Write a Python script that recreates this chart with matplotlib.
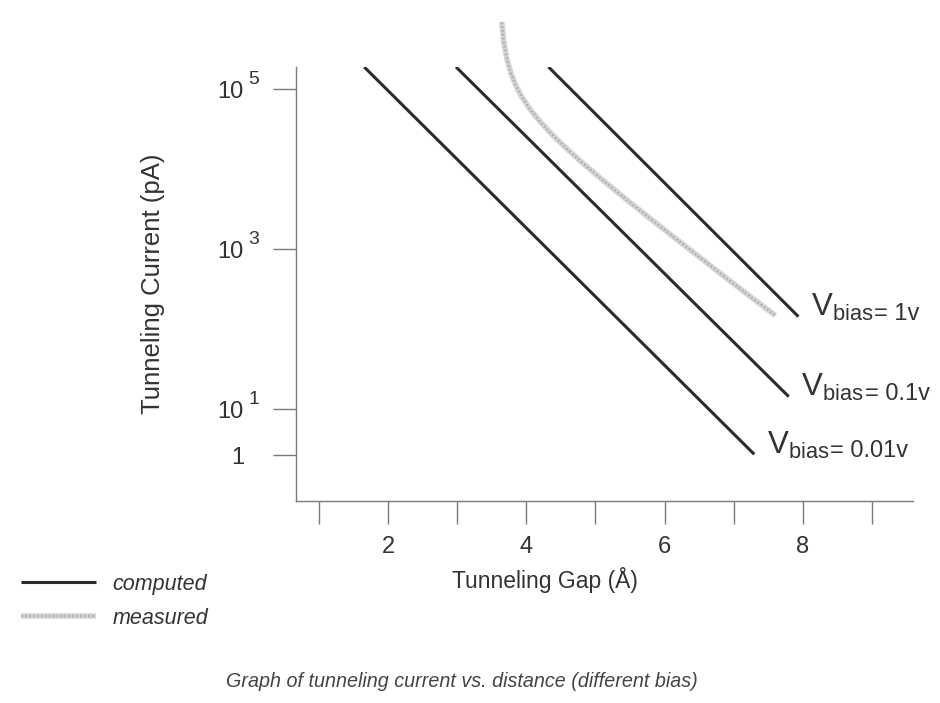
import matplotlib
matplotlib.use('Agg')
import matplotlib.pyplot as plt

plt.rcParams['font.family'] = ['Liberation Sans', 'DejaVu Sans']
plt.rcParams['mathtext.fontset'] = 'custom'
plt.rcParams['mathtext.rm'] = 'Liberation Sans'
plt.rcParams['mathtext.it'] = 'Liberation Sans:italic'

# Datos (x en Angstrom, y en log10 de la corriente en pA)
gap_001 = [1.65, 7.30]
cur_001 = [5.28, 0.44]
gap_01 = [2.98, 7.80]
cur_01 = [5.28, 1.16]
gap_1 = [4.32, 7.94]
cur_1 = [5.28, 2.16]

gap_meas = [3.643, 3.672, 3.716, 3.774, 3.846, 3.933, 4.049, 4.194, 4.368, 4.571, 4.803,
            5.093, 5.455, 5.890, 6.397, 6.861, 7.296, 7.604]
cur_meas = [5.841, 5.591, 5.385, 5.205, 5.049, 4.906, 4.756, 4.600, 4.438, 4.268, 4.088,
            3.875, 3.619, 3.319, 2.978, 2.665, 2.376, 2.176]

bias_vals = ['1v', '0.1v', '0.01v']

xticks = [1, 2, 3, 4, 5, 6, 7, 8, 9]
xtick_labels = ['', '2', '', '4', '', '6', '', '8', '']
yticks = [5, 3, 1, 0.43]
ytick_labels = ['10', '10', '10', '1']
ytick_exp = ['5', '3', '1', '']

txt = '#333333'
ink = '#2b2b2b'
gris = '#7a7a7a'

fig = plt.figure(figsize=(9.4, 7.03), dpi=100)
ax = fig.add_axes([0.3149, 0.2878, 0.6564, 0.6169])

# curva medida (trama gris, sale por encima del eje)
meas, = ax.plot(gap_meas, cur_meas, color='#d4d4d4', lw=4.0, clip_on=False,
                solid_capstyle='butt', solid_joinstyle='round')
meas_dots, = ax.plot(gap_meas, cur_meas, color='#a9a9a9', lw=1.5, clip_on=False,
                     linestyle=(0, (0.8, 1.1)))

comp = None
for g, c, v in zip([gap_1, gap_01, gap_001], [cur_1, cur_01, cur_001], bias_vals):
    l, = ax.plot(g, c, color=ink, lw=2.2, solid_capstyle='butt')
    comp = comp or l
    t = ax.annotate(r'$\mathrm{V}_{\mathrm{bias}}$', xy=(g[-1], c[-1]), xytext=(9, 0.5),
                    textcoords='offset points', ha='left', va='baseline', fontsize=22.5, color=txt)
    ax.annotate('= ' + v, xy=(1, 0), xycoords=t, xytext=(0.5, 2.5), textcoords='offset points',
                ha='left', va='baseline', fontsize=17, color=txt)

ax.set_xlim(0.662, 9.60)
ax.set_ylim(-0.14, 5.28)

for s in ['top', 'right']:
    ax.spines[s].set_visible(False)
for s in ['left', 'bottom']:
    ax.spines[s].set_color(gris)
    ax.spines[s].set_linewidth(1.0)

ax.set_xticks(xticks)
ax.set_xticklabels(xtick_labels)
ax.set_yticks(yticks)
ax.set_yticklabels(ytick_labels)
ax.tick_params(axis='both', direction='out', length=16.5, width=1.0, color=gris,
               labelsize=17, labelcolor=txt)
ax.tick_params(axis='x', pad=9)
ax.tick_params(axis='y', pad=21)

# exponentes de las etiquetas del eje y
for yv, e in zip(yticks, ytick_exp):
    if e:
        ax.annotate(e, xy=(0, yv), xycoords=('axes fraction', 'data'), xytext=(-34.5, 4),
                    textcoords='offset points', ha='left', va='baseline', fontsize=14, color=txt)

ax.set_ylabel('Tunneling Current (pA)', fontsize=18.5, color=txt, labelpad=38)
ax.set_xlabel('Tunneling Gap (Å)', fontsize=16.5, color=txt)
ax.xaxis.set_label_coords(0.404, -0.152)

fig.legend([comp, (meas, meas_dots)], ['computed', 'measured'], loc='upper left',
           bbox_to_anchor=(0.022, 0.184), frameon=False, borderpad=0, borderaxespad=0,
           handlelength=3.5, handletextpad=0.75, labelspacing=0.6,
           prop={'family': 'Liberation Sans', 'style': 'italic', 'size': 15.5},
           labelcolor=txt)

fig.text(0.491, 0.030, 'Graph of tunneling current vs. distance (different bias)',
         ha='center', va='center', fontsize=14.2, style='italic', color='#444444')

fig.savefig('out.png', dpi=100)
